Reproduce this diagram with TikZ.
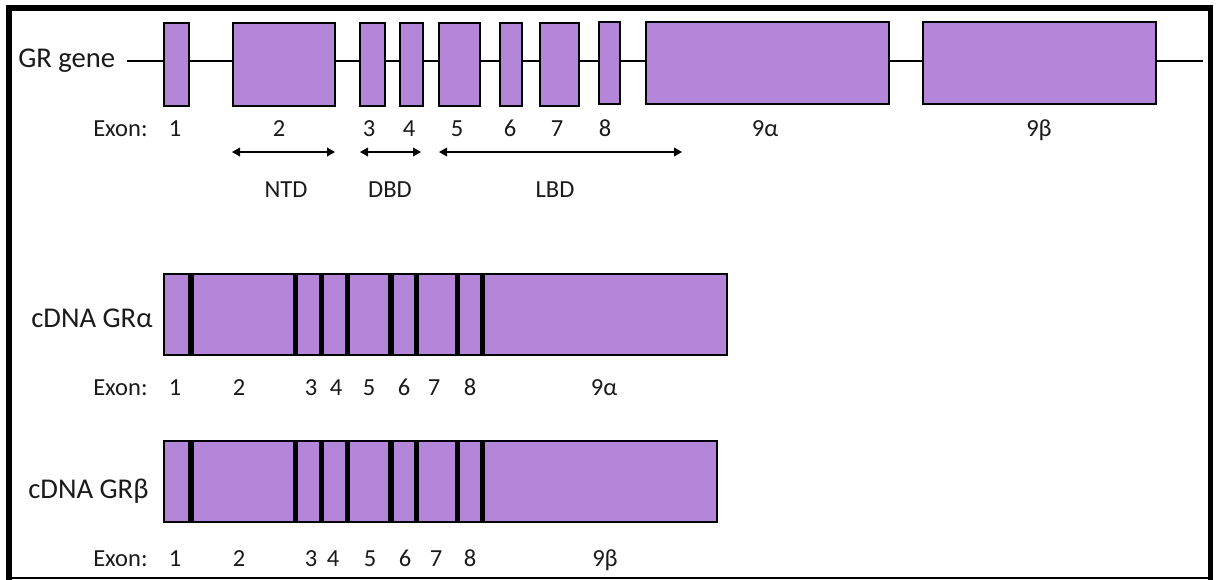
\documentclass[tikz,border=0pt]{standalone}
\usepackage{fontspec}
\setmainfont{Carlito}
\usetikzlibrary{arrows.meta,fit}
\definecolor{exfill}{HTML}{B386D9}
\definecolor{txt}{HTML}{1A1A1A}
\begin{document}
\begin{tikzpicture}[x=0.75pt,y=-0.75pt,
  exon/.style={draw=black, fill=exfill, line width=2.1pt, inner sep=0pt, rectangle},
  big/.style={font=\fontsize{21.5}{24}\selectfont, text=txt, inner sep=0pt},
  small/.style={font=\fontsize{18.4}{21}\selectfont, text=txt, inner sep=0pt, anchor=base},
  genel/.style={line width=1.5pt},
  dom/.style={line width=1.1pt, {Triangle[length=6pt,width=6.5pt]}-{Triangle[length=6pt,width=6.5pt]}}
]
\useasboundingbox (0,0) rectangle (1219,579);
% frame
\draw[line width=4.2pt] (9,582) -- (9,8) -- (1210.5,8) -- (1210.5,582);
\draw[line width=1.5pt] (9,577.5) -- (1210.5,577.5);

% ---------- GR gene ----------
\coordinate (gs) at (127,61);
\coordinate (ge) at (1203,61);
\draw[genel] (gs) -- (ge);
\node[exon, fit={(164,23) (189,106)}] (g1) {};
\node[exon, fit={(233,23) (335,106)}] (g2) {};
\node[exon, fit={(360,23) (385,106)}] (g3) {};
\node[exon, fit={(400,23) (423,106)}] (g4) {};
\node[exon, fit={(439,23) (480,106)}] (g5) {};
\node[exon, fit={(500,23) (522,106)}] (g6) {};
\node[exon, fit={(540,23) (579,106)}] (g7) {};
\node[exon, fit={(599,22) (620,104)}] (g8) {};
\node[exon, fit={(646,22) (889,104)}] (g9a) {};
\node[exon, fit={(923,22) (1156,104)}] (g9b) {};
\node[big, anchor=base west] (glab) at (18,67) {GR gene};

\node[small, anchor=base west] (ex1) at (93,136) {Exon:};
\foreach \t/\x/\n in {1/175/n1,2/279/n2,3/369/n3,4/409/n4,5/457/n5,6/510/n6,7/557/n7,8/605/n8,9α/765/n9a,9β/1039/n9b}
  \node[small] (r1\n) at (\x,136) {\t};

% domains
\coordinate (ntdA) at (232,152); \coordinate (ntdB) at (335,152);
\coordinate (dbdA) at (360,152); \coordinate (dbdB) at (421,152);
\coordinate (lbdA) at (439,152); \coordinate (lbdB) at (682,152);
\draw[dom] (ntdA) -- (ntdB);
\draw[dom] (dbdA) -- (dbdB);
\draw[dom] (lbdA) -- (lbdB);
\node[small] (ntd) at (286,197) {NTD};
\node[small] (dbd) at (390,197) {DBD};
\node[small] (lbd) at (555,197) {LBD};

% ---------- cDNA GR alpha ----------
\foreach \a/\b/\n in {164/189.8/1,192.2/294.3/2,296.7/320.3/3,322.7/346.3/4,348.7/389.8/5,392.2/415.3/6,417.7/456.3/7,458.7/481.3/8,483.7/727/9}
  \node[exon, fit={(\a,274) (\b,355)}] (a\n) {};
\node[big, anchor=base west] (alab) at (31,327) {cDNA GRα};
\node[small, anchor=base west] (ex2) at (93,395) {Exon:};
\foreach \t/\x/\n in {1/175/n1,2/239/n2,3/311/n3,4/336/n4,5/369/n5,6/404/n6,7/434/n7,8/470/n8,9α/604/n9}
  \node[small] (r2\n) at (\x,395) {\t};

% ---------- cDNA GR beta ----------
\foreach \a/\b/\n in {164/189.8/1,192.2/294.3/2,296.7/320.3/3,322.7/346.3/4,348.7/389.8/5,392.2/415.3/6,417.7/456.3/7,458.7/481.3/8,483.7/717/9}
  \node[exon, fit={(\a,441) (\b,522)}] (b\n) {};
\node[big, anchor=base west] (blab) at (28,498) {cDNA GRβ};
\node[small, anchor=base west] (ex3) at (93,566) {Exon:};
\foreach \t/\x/\n in {1/175/n1,2/239/n2,3/311/n3,4/333/n4,5/370/n5,6/405/n6,7/436/n7,8/470/n8,9β/605/n9}
  \node[small] (r3\n) at (\x,566) {\t};
\end{tikzpicture}
\end{document}
